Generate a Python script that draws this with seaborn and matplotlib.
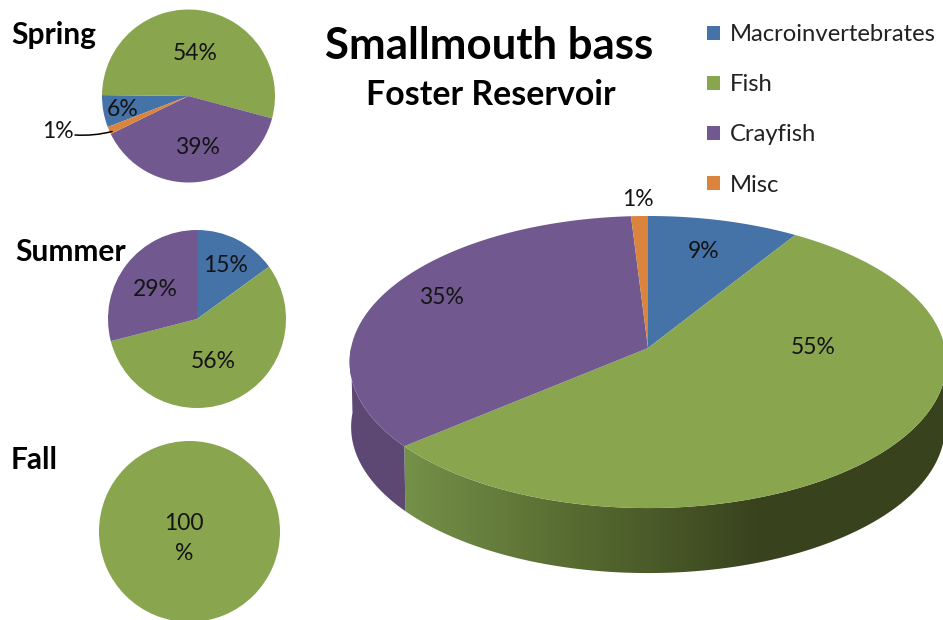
import numpy as np
import matplotlib
matplotlib.use("Agg")
import matplotlib.pyplot as plt
import seaborn as sns
from matplotlib.colors import LinearSegmentedColormap
from matplotlib.patches import Patch, Polygon

W, H = 943, 620

categories = ["Macroinvertebrates", "Fish", "Crayfish", "Misc"]
overall = [9, 55, 35, 1]
spring = [6, 54, 38.6, 1.4]
summer = [15, 56, 29, 0]
fall = [0, 100, 0, 0]

sns.set_theme(style="white")
plt.rcParams["font.family"] = ["Lato", "DejaVu Sans"]
colors = sns.color_palette(["#4572A7", "#89A54E", "#71588F", "#DB843D"])
INK = "#141414"


def small_pie(fig, values, cx, cy, r, start=90):
    # axes placed in pixels, top-left origin
    ax = fig.add_axes([(cx - r) / W, 1 - (cy + r) / H, 2 * r / W, 2 * r / H])
    ax.pie(values, colors=colors, startangle=start, counterclock=False,
           wedgeprops={"linewidth": 0}, radius=1)
    ax.set_xlim(-1, 1)
    ax.set_ylim(-1, 1)
    ax.axis("off")
    return ax


def rim(t, cx=648, cy=348, a=297, b=144.7, k=0.096, drop=0, shrink=1.0):
    # circle seen in perspective, t in degrees clockwise from 12 o'clock
    t = np.radians(t)
    u, v = np.sin(t), np.cos(t)
    d = 1 + k * v
    return cx + shrink * a * u / d, cy - b * v / d + drop


def main():
    fig = plt.figure(figsize=(W / 100, H / 100), dpi=100)
    ax = fig.add_axes([0, 0, 1, 1], zorder=3)
    ax.patch.set_alpha(0)
    ax.set_xlim(0, W)
    ax.set_ylim(H, 0)
    ax.axis("off")

    small_pie(fig, spring, 188.5, 96, 86.5, start=-159)
    small_pie(fig, summer, 197, 319, 89)
    small_pie(fig, fall, 189.5, 531.5, 90.5)

    # main pie, side wall first
    edges = 360 * np.cumsum([0] + overall) / sum(overall)
    depth = 65

    t = np.linspace(90, edges[2], 200)
    x, y = rim(t)
    xb, yb = rim(t, drop=depth, shrink=0.995)
    wall = Polygon(np.r_[np.c_[x, y], np.c_[xb, yb][::-1]], closed=True,
                   transform=ax.transData, facecolor="none", edgecolor="none")
    ax.add_patch(wall)
    shade = LinearSegmentedColormap.from_list(
        "shade", ["#76924a", "#566a30", "#38421d", "#38421d"])
    im = ax.imshow(np.linspace(0, 1, 256)[None, :], cmap=shade, aspect="auto",
                   extent=(398, 943, 620, 200), zorder=1)
    im.set_clip_path(wall)

    t = np.linspace(edges[2], 270, 60)
    x, y = rim(t)
    xb, yb = rim(t, drop=depth, shrink=0.995)
    ax.fill(np.r_[x, xb[::-1]], np.r_[y, yb[::-1]], color="#5d4873", lw=0, zorder=1)

    for i in range(len(overall)):
        t = np.linspace(edges[i], edges[i + 1], 150)
        x, y = rim(t)
        ax.fill(np.r_[648, x], np.r_[348, y], color=colors[i], lw=0, zorder=2)
    ax.set_xlim(0, W)
    ax.set_ylim(H, 0)

    # slice labels
    for px, py, s in [(704, 251, "9%"), (813, 348, "55%"), (441, 297, "35%"), (638, 199, "1%"),
                      (195, 54, "54%"), (123, 110, "6%"), (197, 148, "39%"), (58, 131, "1%"),
                      (226, 266, "15%"), (213, 362, "56%"), (155, 289, "29%"),
                      (184, 523, "100"), (184, 554, "%")]:
        ax.text(px, py, s, ha="center", va="center", fontsize=16.5, color=INK, zorder=5)

    ax.annotate("", xy=(112, 131.5), xytext=(75, 135), zorder=5,
                arrowprops=dict(arrowstyle="-", color="black", lw=1.1,
                                connectionstyle="arc3,rad=0.08", shrinkA=0, shrinkB=0))

    for px, py, s in [(11, 35, "Spring"), (15, 252, "Summer"), (11, 460, "Fall")]:
        ax.text(px, py, s, ha="left", va="center", fontsize=21.5, fontweight="bold", color="black")

    ax.text(489, 46, "Smallmouth bass", ha="center", va="center", fontsize=31.5,
            fontweight="bold", color="black")
    ax.text(491, 95, "Foster Reservoir", ha="center", va="center", fontsize=24.4,
            fontweight="bold", color="black")

    handles = [Patch(facecolor=c, edgecolor="none") for c in colors]
    ax.legend(handles, categories, loc="upper left",
              bbox_to_anchor=(700 / W, 1 - 17 / H), bbox_transform=fig.transFigure,
              frameon=False, fontsize=17.2, labelspacing=1.22, handlelength=0.55,
              handleheight=0.55, handletextpad=0.38, borderpad=0.3, borderaxespad=0,
              labelcolor="#222222")

    fig.savefig("out.png", dpi=100, facecolor="white")


if __name__ == "__main__":
    main()
